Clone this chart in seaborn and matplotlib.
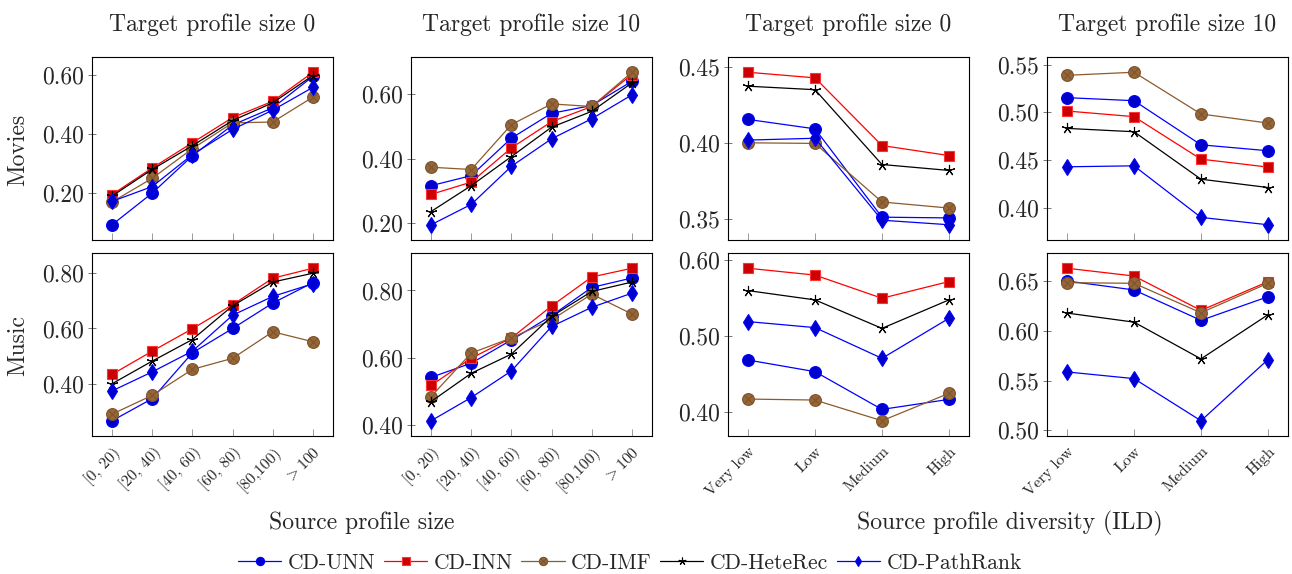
import numpy as np
import matplotlib
matplotlib.use("Agg")
import matplotlib.pyplot as plt
from matplotlib.path import Path
import seaborn as sns

methods = ["CD-UNN", "CD-INN", "CD-IMF", "CD-HeteRec", "CD-PathRank"]

size_cats = ["[0, 20)", "[20, 40)", "[40, 60)", "[60, 80)", "[80,100)", r"${>}100$"]
ild_cats = ["Very low", "Low", "Medium", "High"]

# Movies, source profile size
movies_size0 = {
    "CD-UNN":      [0.093, 0.200, 0.326, 0.430, 0.488, 0.594],
    "CD-INN":      [0.195, 0.285, 0.370, 0.455, 0.510, 0.608],
    "CD-IMF":      [0.170, 0.250, 0.350, 0.437, 0.440, 0.524],
    "CD-HeteRec":  [0.190, 0.280, 0.360, 0.445, 0.505, 0.597],
    "CD-PathRank": [0.172, 0.222, 0.330, 0.415, 0.480, 0.557],
}
movies_size10 = {
    "CD-UNN":      [0.316, 0.347, 0.463, 0.540, 0.564, 0.639],
    "CD-INN":      [0.289, 0.327, 0.433, 0.514, 0.561, 0.660],
    "CD-IMF":      [0.373, 0.366, 0.505, 0.569, 0.561, 0.667],
    "CD-HeteRec":  [0.236, 0.316, 0.406, 0.497, 0.546, 0.634],
    "CD-PathRank": [0.195, 0.258, 0.376, 0.461, 0.523, 0.597],
}
# Movies, source profile diversity
movies_ild0 = {
    "CD-UNN":      [0.4154, 0.4092, 0.3510, 0.3505],
    "CD-INN":      [0.4465, 0.4428, 0.3982, 0.3916],
    "CD-IMF":      [0.4000, 0.3996, 0.3610, 0.3570],
    "CD-HeteRec":  [0.4373, 0.4350, 0.3857, 0.3818],
    "CD-PathRank": [0.4018, 0.4030, 0.3490, 0.3460],
}
movies_ild10 = {
    "CD-UNN":      [0.5154, 0.5122, 0.4660, 0.4598],
    "CD-INN":      [0.5014, 0.4955, 0.4510, 0.4427],
    "CD-IMF":      [0.5388, 0.5420, 0.4983, 0.4888],
    "CD-HeteRec":  [0.4832, 0.4797, 0.4300, 0.4213],
    "CD-PathRank": [0.4430, 0.4440, 0.3900, 0.3823],
}
# Music, source profile size
music_size0 = {
    "CD-UNN":      [0.266, 0.346, 0.512, 0.600, 0.692, 0.766],
    "CD-INN":      [0.434, 0.518, 0.599, 0.686, 0.782, 0.818],
    "CD-IMF":      [0.290, 0.358, 0.452, 0.492, 0.588, 0.552],
    "CD-HeteRec":  [0.400, 0.482, 0.560, 0.682, 0.768, 0.800],
    "CD-PathRank": [0.374, 0.443, 0.518, 0.648, 0.716, 0.762],
}
music_size10 = {
    "CD-UNN":      [0.542, 0.584, 0.653, 0.725, 0.809, 0.837],
    "CD-INN":      [0.518, 0.599, 0.659, 0.754, 0.840, 0.866],
    "CD-IMF":      [0.485, 0.614, 0.659, 0.713, 0.789, 0.730],
    "CD-HeteRec":  [0.470, 0.554, 0.611, 0.723, 0.797, 0.825],
    "CD-PathRank": [0.413, 0.482, 0.561, 0.693, 0.750, 0.792],
}
# Music, source profile diversity
music_ild0 = {
    "CD-UNN":      [0.4684, 0.4531, 0.4035, 0.4167],
    "CD-INN":      [0.5890, 0.5800, 0.5496, 0.5715],
    "CD-IMF":      [0.4171, 0.4158, 0.3886, 0.4246],
    "CD-HeteRec":  [0.5596, 0.5474, 0.5100, 0.5474],
    "CD-PathRank": [0.5189, 0.5110, 0.4706, 0.5232],
}
music_ild10 = {
    "CD-UNN":      [0.6500, 0.6410, 0.6105, 0.6342],
    "CD-INN":      [0.6628, 0.6550, 0.6205, 0.6493],
    "CD-IMF":      [0.6483, 0.6477, 0.6181, 0.6477],
    "CD-HeteRec":  [0.6178, 0.6087, 0.5718, 0.6161],
    "CD-PathRank": [0.5587, 0.5520, 0.5097, 0.5711],
}

yticks = {
    "movies_size0": [0.2, 0.4, 0.6], "movies_size10": [0.2, 0.4, 0.6],
    "movies_ild0": [0.35, 0.40, 0.45], "movies_ild10": [0.40, 0.45, 0.50, 0.55],
    "music_size0": [0.4, 0.6, 0.8], "music_size10": [0.4, 0.6, 0.8],
    "music_ild0": [0.4, 0.5, 0.6], "music_ild10": [0.50, 0.55, 0.60, 0.65],
}

# otimes marker: circle with a cross inside
r = 0.7071
cross = Path([(-r, -r), (r, r), (-r, r), (r, -r)],
             [Path.MOVETO, Path.LINETO, Path.MOVETO, Path.LINETO])
otimes = Path.make_compound_path(Path.unit_circle(), cross)

styles = {
    "CD-UNN":      dict(color="#0000ff", marker="o", markersize=8.5, markerfacecolor="#0000cc", markeredgecolor="#0000ff"),
    "CD-INN":      dict(color="#ff0000", marker="s", markersize=7.5, markerfacecolor="#cc0000", markeredgecolor="#ff3333"),
    "CD-IMF":      dict(color="#8c5a2b", marker=otimes, markersize=8.5, markerfacecolor="#996633", markeredgecolor="#7a5533"),
    "CD-HeteRec":  dict(color="black", marker=(5, 2, 0), markersize=8, markerfacecolor="none", markeredgecolor="black"),
    "CD-PathRank": dict(color="#0000ff", marker="d", markersize=8, markerfacecolor="#0000cc", markeredgecolor="#0000ff"),
}

sns.set_style("white")
plt.rcParams["font.family"] = ["cmr10", "DejaVu Serif"]
plt.rcParams["mathtext.fontset"] = "cm"
plt.rcParams["axes.unicode_minus"] = False

W, H = 1292, 574
fig = plt.figure(figsize=(W / 100, H / 100), dpi=100)

lefts = [92, 411, 728, 1047]
rows = [(57, 240), (253, 436)]
panels = [
    [("movies_size0", movies_size0), ("movies_size10", movies_size10), ("movies_ild0", movies_ild0), ("movies_ild10", movies_ild10)],
    [("music_size0", music_size0), ("music_size10", music_size10), ("music_ild0", music_ild0), ("music_ild10", music_ild10)],
]
titles = ["Target profile size 0", "Target profile size 10", "Target profile size 0", "Target profile size 10"]

handles = None
for ri, (top, bot) in enumerate(rows):
    for ci, (name, data) in enumerate(panels[ri]):
        ax = fig.add_axes([lefts[ci] / W, 1 - bot / H, 241 / W, (bot - top) / H])
        cats = size_cats if ci < 2 else ild_cats
        x = np.arange(len(cats))
        for m in methods:
            sns.lineplot(x=x, y=data[m], ax=ax, label=m, linewidth=0.9,
                         markeredgewidth=0.8, **styles[m])
        if handles is None:
            handles, labels = ax.get_legend_handles_labels()
        ax.get_legend().remove()

        allv = np.concatenate([data[m] for m in methods])
        lo, hi = allv.min(), allv.max()
        pad = 0.1 * (hi - lo)
        ax.set_ylim(lo - pad, hi + pad)
        ax.set_xlim(-0.5 if ci < 2 else -0.3, len(cats) - 0.5 if ci < 2 else len(cats) - 0.7)
        ax.set_yticks(yticks[name])
        ax.set_yticklabels([f"{v:.2f}" for v in yticks[name]], fontsize=17)
        ax.set_xticks(x)
        if ri == 1:
            ax.set_xticklabels(cats, rotation=45, ha="right", rotation_mode="anchor", fontsize=11.5)
        else:
            ax.set_xticklabels([])
        ax.tick_params(axis="y", direction="inout", length=6, width=0.7, color="#777777", pad=3, left=True)
        ax.tick_params(axis="x", direction="in", length=5, width=0.7, color="#999999", pad=6, bottom=True)
        for s in ax.spines.values():
            s.set_color("black")
            s.set_linewidth(0.8)
        ax.set_xlabel("")
        ax.set_ylabel("")
        if ri == 0:
            ax.set_title(titles[ci], fontsize=17, pad=19)

fig.text(18 / W, 1 - 150 / H, "Movies", rotation=90, ha="center", va="center", fontsize=17)
fig.text(18 / W, 1 - 345 / H, "Music", rotation=90, ha="center", va="center", fontsize=17)
fig.text(362 / W, 1 - 523 / H, "Source profile size", ha="center", va="center", fontsize=17)
fig.text(1010 / W, 1 - 523 / H, "Source profile diversity (ILD)", ha="center", va="center", fontsize=17)

fig.legend(handles, labels, loc="center", bbox_to_anchor=(630 / W, 1 - 563 / H), ncol=5,
           frameon=False, fontsize=15.5, handlelength=2.0, handletextpad=0.3,
           columnspacing=0.4, markerscale=0.7)

fig.savefig("out.png", dpi=100)
